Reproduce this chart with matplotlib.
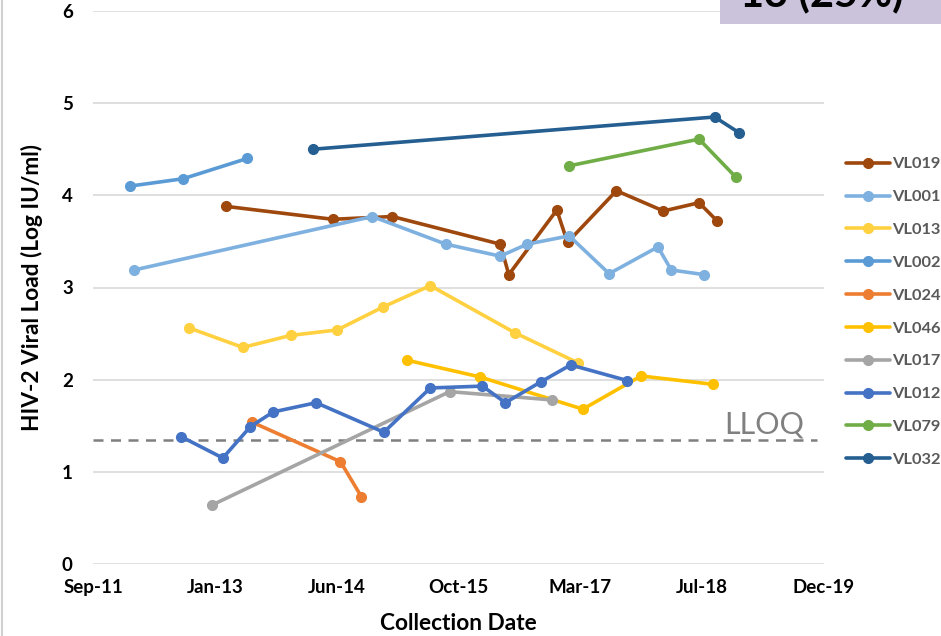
import numpy as np
import pandas as pd
import matplotlib
matplotlib.use("Agg")
import matplotlib.pyplot as plt
import matplotlib.dates as mdates
from matplotlib.patches import Rectangle
from matplotlib.lines import Line2D

plt.rcParams['font.family'] = ['Lato', 'DejaVu Sans']

# patient series (collection date, log viral load)
vl019_dates = ['2013-03-13', '2014-05-24', '2015-01-24', '2016-04-11', '2016-05-16', '2016-11-29',
               '2017-01-12', '2017-08-01', '2018-02-10', '2018-07-06', '2018-09-19']
vl019_vals = [3.88, 3.74, 3.77, 3.47, 3.14, 3.84, 3.49, 4.05, 3.83, 3.92, 3.72]

vl001_dates = ['2012-02-29', '2014-11-03', '2015-09-01', '2016-04-11', '2016-07-30', '2017-01-19',
               '2017-07-02', '2018-01-18', '2018-03-14', '2018-07-26']
vl001_vals = [3.19, 3.77, 3.47, 3.34, 3.47, 3.56, 3.15, 3.44, 3.19, 3.14]

vl013_dates = ['2012-10-13', '2013-05-20', '2013-12-02', '2014-06-12', '2014-12-18', '2015-06-29',
               '2016-06-09', '2017-02-26']
vl013_vals = [2.56, 2.35, 2.48, 2.54, 2.79, 3.02, 2.51, 2.18]

vl002_dates = ['2012-02-11', '2012-09-17', '2013-06-07']
vl002_vals = [4.10, 4.18, 4.40]

vl024_dates = ['2013-06-26', '2014-06-25', '2014-09-19']
vl024_vals = [1.54, 1.11, 0.73]

vl046_dates = ['2015-03-27', '2016-01-18', '2017-03-16', '2017-11-10', '2018-09-01']
vl046_vals = [2.21, 2.03, 1.68, 2.04, 1.95]

vl017_dates = ['2013-01-14', '2015-09-16', '2016-11-11']
vl017_vals = [0.64, 1.87, 1.78]

vl012_dates = ['2012-09-10', '2013-02-27', '2013-06-20', '2013-09-22', '2014-03-17', '2014-12-20',
               '2015-06-29', '2016-01-29', '2016-05-02', '2016-09-27', '2017-01-25', '2017-09-15']
vl012_vals = [1.38, 1.15, 1.49, 1.65, 1.75, 1.43, 1.91, 1.93, 1.75, 1.98, 2.16, 1.99]

vl079_dates = ['2017-01-19', '2018-07-06', '2018-12-03']
vl079_vals = [4.32, 4.61, 4.20]

vl032_dates = ['2014-03-03', '2018-09-08', '2018-12-17']
vl032_vals = [4.50, 4.85, 4.68]

lloq = 1.345
tick_dates = ['2011-09-13', '2013-01-26', '2014-06-10', '2015-10-23', '2017-03-06', '2018-07-19', '2019-12-01']

series = [
    ('VL019', vl019_dates, vl019_vals, '#9E480E'),
    ('VL001', vl001_dates, vl001_vals, '#7FB1E0'),
    ('VL013', vl013_dates, vl013_vals, '#FFD140'),
    ('VL002', vl002_dates, vl002_vals, '#5B9BD5'),
    ('VL024', vl024_dates, vl024_vals, '#ED7D31'),
    ('VL046', vl046_dates, vl046_vals, '#FFC000'),
    ('VL017', vl017_dates, vl017_vals, '#A5A5A5'),
    ('VL012', vl012_dates, vl012_vals, '#4472C4'),
    ('VL079', vl079_dates, vl079_vals, '#70AD47'),
    ('VL032', vl032_dates, vl032_vals, '#255E91'),
]

fig = plt.figure(figsize=(9.41, 6.36), dpi=100)
ax = fig.add_axes([93 / 941, 72 / 636, 731 / 941, 553 / 636])

for name, d, v, c in series:
    ax.plot(pd.to_datetime(d), v, color=c, lw=2.6, marker='o', ms=7, label=name,
            solid_capstyle='round', zorder=3)

xt = pd.to_datetime(tick_dates)
ax.plot([xt[0], pd.Timestamp('2019-11-01')], [lloq, lloq], color='#7F7F7F', lw=1.8,
        ls=(0, (4, 3)), zorder=2)
ax.text(pd.Timestamp('2019-03-29'), lloq + 0.07, 'LLOQ', color='#808080', fontsize=22,
        ha='center', va='baseline')

ax.set_xlim(xt[0], xt[-1])
ax.set_ylim(0, 6)
ax.set_xticks(xt)
ax.xaxis.set_major_formatter(mdates.DateFormatter('%b-%y'))
ax.set_yticks(np.arange(0, 7, 1))
ax.grid(axis='y', color='#D9D9D9', lw=1.2)
ax.set_axisbelow(True)
for s in ax.spines.values():
    s.set_visible(False)
ax.tick_params(length=0, labelsize=13.5, colors='#000000')
ax.tick_params(axis='x', pad=11)
ax.tick_params(axis='y', pad=14.5)
for lab in ax.get_xticklabels() + ax.get_yticklabels():
    lab.set_fontweight('bold')

ax.set_xlabel('Collection Date', fontsize=16.3, fontweight='bold')
ax.set_ylabel('HIV-2 Viral Load (Log IU/ml)', fontsize=16.3, fontweight='bold')
ax.xaxis.set_label_coords(0.5, (13 - 72) / 553)
ax.xaxis.label.set_va('center')
ax.yaxis.set_label_coords((32 - 93) / 731, 0.5)
ax.yaxis.label.set_va('center')
ax.yaxis.label.set_ha('center')

leg = ax.legend(loc='upper left', bbox_to_anchor=(846 / 941, 1 - 157 / 636), bbox_transform=fig.transFigure,
                frameon=False, fontsize=11.8, handlelength=2.68, handletextpad=0.12,
                labelspacing=1.12, borderaxespad=0, borderpad=0)
for t in leg.get_texts():
    t.set_fontweight('bold')
    t.set_color('#595959')

# cropped title box at the top right and slide edge on the left
fig.patches.append(Rectangle((720 / 941, 1 - 24 / 636), 221 / 941, 24 / 636, transform=fig.transFigure,
                             facecolor='#CBC3DC', edgecolor='none'))
fig.text(822 / 941, 1 - 6 / 636, '13 (25%)', fontsize=30, fontweight='bold', ha='center', va='baseline')
fig.lines.append(Line2D([2 / 941, 2 / 941], [0, 1], transform=fig.transFigure, color='#D0D0D0', lw=1.5))

fig.savefig('out.png', dpi=100)
